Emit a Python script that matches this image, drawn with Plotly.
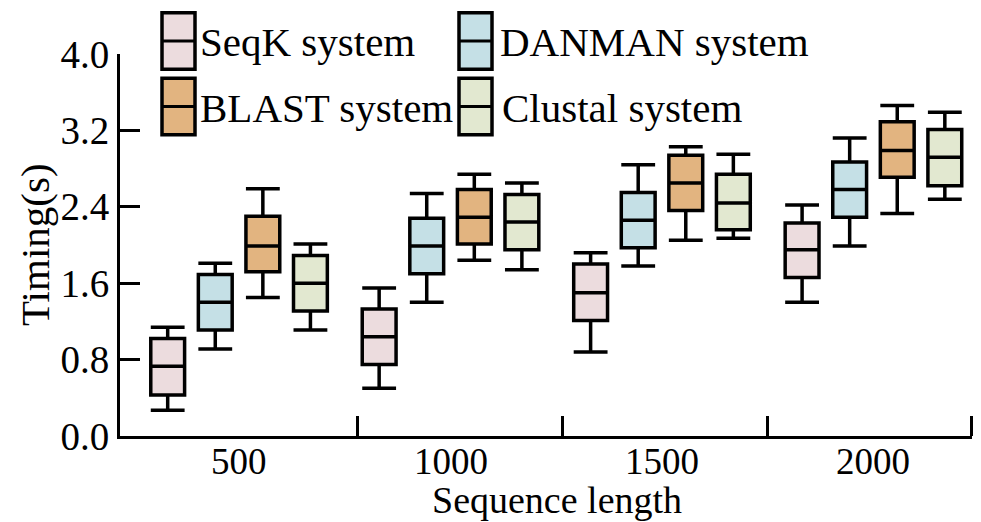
import plotly.graph_objects as go

categories = ["500", "1000", "1500", "2000"]
series_names = ["SeqK system", "DANMAN system", "BLAST system", "Clustal system"]
colors = ["#ECDCDE", "#C5E0E6", "#E2B480", "#E2E8D0"]

seqk_lower = [0.27, 0.50, 0.88, 1.40]
seqk_q1 = [0.43, 0.75, 1.21, 1.66]
seqk_median = [0.73, 1.04, 1.50, 1.95]
seqk_q3 = [1.02, 1.33, 1.80, 2.23]
seqk_upper = [1.14, 1.55, 1.92, 2.42]

danman_lower = [0.91, 1.40, 1.78, 1.99]
danman_q1 = [1.11, 1.70, 1.97, 2.29]
danman_median = [1.40, 1.99, 2.26, 2.58]
danman_q3 = [1.69, 2.28, 2.55, 2.87]
danman_upper = [1.81, 2.54, 2.84, 3.12]

blast_lower = [1.45, 1.84, 2.05, 2.33]
blast_q1 = [1.72, 2.01, 2.36, 2.71]
blast_median = [1.99, 2.29, 2.65, 2.99]
blast_q3 = [2.30, 2.58, 2.94, 3.29]
blast_upper = [2.59, 2.74, 3.03, 3.46]

clustal_lower = [1.11, 1.74, 2.07, 2.48]
clustal_q1 = [1.31, 1.95, 2.16, 2.62]
clustal_median = [1.60, 2.24, 2.44, 2.92]
clustal_q3 = [1.89, 2.53, 2.74, 3.21]
clustal_upper = [2.01, 2.65, 2.95, 3.39]

y_ticks = [0.0, 0.8, 1.6, 2.4, 3.2, 4.0]
x_title = "Sequence length"
y_title = "Timing(s)"

stats = [
    (seqk_lower, seqk_q1, seqk_median, seqk_q3, seqk_upper),
    (danman_lower, danman_q1, danman_median, danman_q3, danman_upper),
    (blast_lower, blast_q1, blast_median, blast_q3, blast_upper),
    (clustal_lower, clustal_q1, clustal_median, clustal_q3, clustal_upper),
]

FONT = "Liberation Serif"
W, H = 981, 522
ML, MR, MT, MB = 120, 9, 54, 86
spacing = 0.225
box_w = 0.16
x_range = [-0.563, 3.466]
separators = [0.56, 1.53, 2.5, 3.462]

fig = go.Figure()
for j, (name, col, st) in enumerate(zip(series_names, colors, stats)):
    lo, q1, md, q3, up = st
    xs = [i + (j - 1.5) * spacing for i in range(len(categories))]
    fig.add_trace(go.Box(
        x=xs, lowerfence=lo, q1=q1, median=md, q3=q3, upperfence=up,
        width=box_w, whiskerwidth=1, fillcolor=col,
        line=dict(color="black", width=3.5), name=name,
        showlegend=False, hoverinfo="skip",
    ))

# custom legend (tall box symbols)
pw = W - ML - MR
ph = H - MT - MB
def px(x):
    return (x - ML) / pw
def py(y):
    return (H - MB - y) / ph

legend_pos = [(162, 12.7, 198), (459, 12.7, 498), (162, 78.3, 198), (459, 78.3, 500)]
lh = 56.5
lw = 33
for (x0, y0, tx), name, col in zip(legend_pos, series_names, colors):
    fig.add_shape(type="rect", xref="paper", yref="paper",
                  x0=px(x0), x1=px(x0 + lw), y0=py(y0 + lh), y1=py(y0),
                  fillcolor=col, line=dict(color="black", width=3.5), layer="above")
    fig.add_shape(type="line", xref="paper", yref="paper",
                  x0=px(x0), x1=px(x0 + lw), y0=py(y0 + lh / 2), y1=py(y0 + lh / 2),
                  line=dict(color="black", width=3), layer="above")
    fig.add_annotation(xref="paper", yref="paper", x=px(tx), y=py(y0 + lh / 2 + 1),
                       text=name, showarrow=False, xanchor="left", yanchor="middle",
                       font=dict(family=FONT, size=41, color="black"))

# x category labels, placed on the x data scale
for i, cat in enumerate(categories):
    fig.add_annotation(xref="x", yref="paper", x=i, y=py(461),
                       text=cat, showarrow=False, xanchor="center", yanchor="middle",
                       borderpad=0, font=dict(family=FONT, size=37, color="black"))

# axis titles as annotations for exact placement
fig.add_annotation(xref="paper", yref="paper", x=px(557), y=py(522),
                   text=x_title, showarrow=False, xanchor="center", yanchor="bottom",
                   borderpad=0,
                   font=dict(family=FONT, size=38, color="black"))
fig.add_annotation(xref="paper", yref="paper", x=px(35), y=py(245),
                   text=y_title, showarrow=False, textangle=-90,
                   xanchor="center", yanchor="middle",
                   font=dict(family=FONT, size=41, color="black"))

fig.update_layout(
    width=W, height=H,
    margin=dict(l=ML, r=MR, t=MT, b=MB, pad=0),
    plot_bgcolor="white", paper_bgcolor="white",
    font=dict(family=FONT, size=38, color="black"),
    xaxis=dict(
        range=x_range, showgrid=False, zeroline=False, automargin=False,
        showline=True, linecolor="black", linewidth=3,
        tickmode="array", tickvals=list(range(len(categories))),
        showticklabels=False, ticks="",
        minor=dict(tickmode="array", tickvals=separators, ticks="inside",
                   ticklen=20, tickwidth=3, tickcolor="black", showgrid=False),
    ),
    yaxis=dict(
        range=[0, 4.0], showgrid=False, zeroline=False, automargin=False,
        showline=True, linecolor="black", linewidth=3,
        tickmode="array", tickvals=y_ticks, ticktext=[f"{v:.1f}" for v in y_ticks],
        ticks="inside", ticklen=20, tickwidth=3, tickcolor="black",
        tickfont=dict(family=FONT, size=39),
    ),
)

fig.write_html("out.html")
